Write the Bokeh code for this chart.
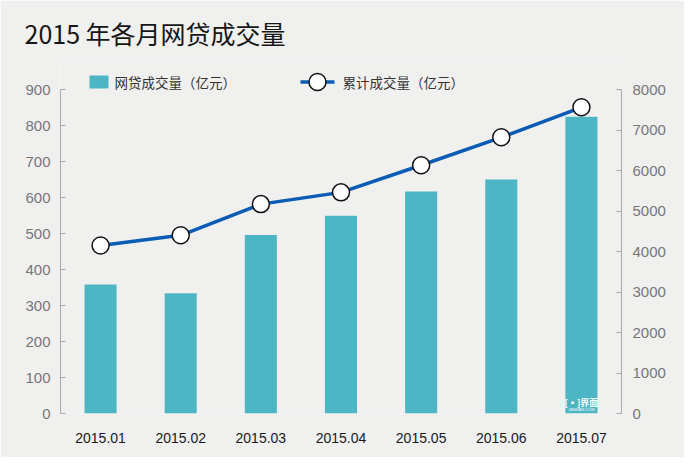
from bokeh.plotting import figure
from bokeh.models import Range1d, LinearAxis, FixedTicker
from bokeh.core.properties import value
from bokeh.embed import file_html
from bokeh.resources import INLINE

# ---------------- data ----------------
months = ["2015.01", "2015.02", "2015.03", "2015.04", "2015.05", "2015.06", "2015.07"]
volume = [358, 334, 496, 549, 617, 650, 824]            # 网贷成交量(亿元)
cumulative = [4150, 4400, 5170, 5460, 6130, 6820, 7560]  # 累计成交量(亿元)
left_ticks = [0, 100, 200, 300, 400, 500, 600, 700, 800, 900]
right_ticks = [0, 1000, 2000, 3000, 4000, 5000, 6000, 7000, 8000]
title_text = "2015 年各月网贷成交量"
bar_legend = "网贷成交量（亿元）"
line_legend = "累计成交量（亿元）"

# ---------------- layout ----------------
W, H = 684, 457
BL, BR, BT, BB = 60, 63, 62, 44
frame_w = W - BL - BR
frame_h = H - BT - BB
LEFT_MAX = left_ticks[-1]
RIGHT_MAX = right_ticks[-1]
axis_px = 324.0                       # pixel height of the 0..900 axis
y_end = LEFT_MAX * frame_h / axis_px
y2_end = RIGHT_MAX * frame_h / axis_px
n = len(months)
x_start, x_end = -0.5, n - 0.5
xs = list(range(n))

def dx(ref_x):
    fx = ref_x - 8
    return x_start + (fx - BL) * (x_end - x_start) / frame_w

def dy(ref_y):
    fy = ref_y - 8
    return (BT + frame_h - fy) * y_end / frame_h

BG = "#f0f0ef"
BAR = "#4db6c4"
LINE = "#0b5cb4"

p = figure(width=W, height=H, output_backend="svg", toolbar_location=None,
           x_range=Range1d(x_start, x_end), y_range=Range1d(0, y_end),
           min_border_left=BL, min_border_right=BR, min_border_top=BT, min_border_bottom=BB,
           title=title_text)
p.background_fill_color = BG
p.border_fill_color = BG
p.outline_line_color = None
p.xgrid.visible = False
p.ygrid.visible = False
p.extra_y_ranges = {"right": Range1d(0, y2_end)}

# title
p.title.text_font = "Noto Sans CJK SC"
p.title.text_font_size = "25px"
p.title.text_font_style = "normal"
p.title.text_color = "#161616"
p.title.align = "left"
p.title.offset = -36
p.title.standoff = 24

# left axis
ya = p.yaxis[0]
ya.ticker = FixedTicker(ticks=left_ticks)
ya.bounds = (0, LEFT_MAX)
ya.axis_line_color = "#aaaaaa"
ya.major_tick_line_color = "#aaaaaa"
ya.major_tick_in = 5
ya.major_tick_out = 0
ya.minor_tick_line_color = None
ya.major_label_text_color = "#777777"
ya.major_label_text_font = "Liberation Sans"
ya.major_label_text_font_size = "15px"
ya.major_label_standoff = 10

# right axis
ra = LinearAxis(y_range_name="right", ticker=FixedTicker(ticks=right_ticks), bounds=(0, RIGHT_MAX))
ra.axis_line_color = "#aaaaaa"
ra.major_tick_line_color = "#aaaaaa"
ra.major_tick_in = 5
ra.major_tick_out = 0
ra.minor_tick_line_color = None
ra.major_label_text_color = "#777777"
ra.major_label_text_font = "Liberation Sans"
ra.major_label_text_font_size = "15px"
ra.major_label_standoff = 11
p.add_layout(ra, "right")

# x axis
xa = p.xaxis[0]
xa.ticker = FixedTicker(ticks=xs)
xa.major_label_overrides = {i: m for i, m in enumerate(months)}
xa.axis_line_color = None
xa.major_tick_line_color = None
xa.minor_tick_line_color = None
xa.major_label_text_color = "#1a1a1a"
xa.major_label_text_font = "Liberation Sans"
xa.major_label_text_font_size = "14px"
xa.major_label_standoff = 13

# bars
p.vbar(x=xs, top=volume, width=0.4, bottom=0, fill_color=BAR, line_color=None)

# line with markers
p.line(xs, cumulative, y_range_name="right", line_color=LINE, line_width=3.5)
p.scatter(xs, cumulative, y_range_name="right", size=17, fill_color="white",
          line_color="#111111", line_width=1.5)

# watermark on last bar
p.text(x=[xs[-1]], y=[dy(410)], text=["[▪]界面"], text_color="white",
       text_font=value("Noto Sans CJK SC"), text_font_size="9px", text_font_style="bold",
       text_align="center", text_baseline="middle")
p.text(x=[xs[-1]], y=[dy(417)], text=["JIEMIAN.COM"], text_color="white",
       text_font=value("Liberation Sans"), text_font_size="4px",
       text_align="center", text_baseline="middle")

# legend
ly = dy(89.5)
p.rect(x=[dx(106.5)], y=[ly], width=19, height=13, width_units="screen", height_units="screen",
       fill_color=BAR, line_color=None)
p.text(x=[dx(122)], y=[ly], text=[bar_legend], text_color="#333333",
       text_font=value("Noto Sans CJK SC"), text_font_size="13.5px", text_baseline="middle")
p.segment(x0=[dx(308)], y0=[ly], x1=[dx(342)], y1=[ly], line_color=LINE, line_width=3.5)
p.scatter(x=[dx(325)], y=[ly], size=17, fill_color="white", line_color="#111111", line_width=1.5)
p.text(x=[dx(350)], y=[ly], text=[line_legend], text_color="#333333",
       text_font=value("Noto Sans CJK SC"), text_font_size="13.5px", text_baseline="middle")

open("out.html", "w").write(file_html(p, INLINE))
